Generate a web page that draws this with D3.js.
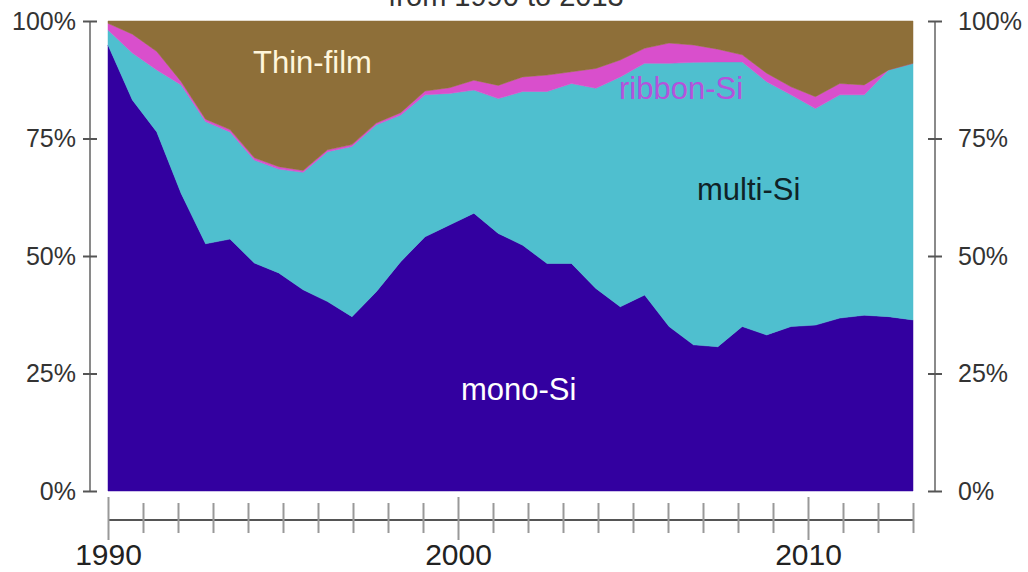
<!DOCTYPE html>
<html>
<head>
<meta charset="utf-8">
<script src="https://cdn.jsdelivr.net/npm/d3@7"></script>
<style>
  html, body { margin: 0; padding: 0; background: #fff; }
  svg { display: block; font-family: "Liberation Sans", Arial, sans-serif; }
</style>
</head>
<body>
<svg id="chart" width="1028" height="572"></svg>
<script>
// ---- data (share of annual PV production, %) ----
const startYear = 1990;
const endYear = 2013;
const labeledYears = [1990, 2000, 2010];
const yTickValues = [0, 25, 50, 75, 100];
const seriesKeys = ["mono", "multi", "ribbon", "thin"];
const seriesLabels = ["mono-Si", "multi-Si", "ribbon-Si", "Thin-film"];
const titleText = "from 1990 to 2013";

const monoSi = [94.9, 83.2, 76.4, 63.3, 52.6, 53.6, 48.5, 46.4, 42.8, 40.3, 37.1, 42.4,
  48.8, 54.1, 56.6, 59.1, 54.8, 52.3, 48.4, 48.4, 43.1, 39.2, 41.7, 35.0, 31.1, 30.7,
  35.0, 33.2, 35.0, 35.3, 36.8, 37.4, 37.1, 36.4];
const multiSi = [3.2, 10.0, 13.2, 23.1, 26.0, 22.8, 21.9, 22.1, 25.0, 31.9, 36.2, 35.5,
  31.2, 30.2, 28.0, 26.2, 28.7, 32.7, 36.6, 38.3, 42.6, 48.9, 49.3, 56.0, 60.1, 60.6,
  56.3, 53.9, 49.3, 46.1, 47.5, 46.9, 52.5, 54.6];
const ribbonSi = [1.4, 4.0, 3.9, 0.7, 0.5, 0.5, 0.5, 0.5, 0.4, 0.4, 0.4, 0.4,
  0.5, 0.8, 1.2, 2.1, 2.8, 3.1, 3.5, 2.5, 4.2, 3.6, 3.2, 4.3, 3.7, 2.7,
  1.5, 1.8, 1.7, 2.5, 2.4, 2.1, 0, 0];
const thinFilm = [0.5, 2.8, 6.5, 12.9, 20.9, 23.1, 29.1, 31.0, 31.8, 27.4, 26.3, 21.7,
  19.5, 14.9, 14.2, 12.6, 13.7, 11.9, 11.5, 10.8, 10.1, 8.3, 5.8, 4.7, 5.1, 6.0,
  7.2, 11.1, 14.0, 16.1, 13.3, 13.6, 10.4, 9.0];

// ---- layout ----
const svg = d3.select("#chart");
const plot = { left: 108, right: 913, top: 21, bottom: 491 };
const colors = { mono: "#3300a0", multi: "#4fbfcf", ribbon: "#d94fcc", thin: "#8e6f39" };

const n = monoSi.length;
const rows = d3.range(n).map(i => ({
  i, mono: monoSi[i], multi: multiSi[i], ribbon: ribbonSi[i], thin: thinFilm[i]
}));

const xIdx = d3.scaleLinear().domain([0, n - 1]).range([plot.left, plot.right]);
const xYear = d3.scaleLinear().domain([startYear, endYear]).range([plot.left, plot.right]);
const y = d3.scaleLinear().domain([0, 100]).range([plot.bottom, plot.top]);

const stacked = d3.stack().keys(seriesKeys)(rows);
const area = d3.area()
  .x(d => xIdx(d.data.i))
  .y0(d => y(d[0]))
  .y1(d => y(d[1]));

svg.append("g").selectAll("path")
  .data(stacked)
  .join("path")
  .attr("d", area)
  .attr("fill", d => colors[d.key])
  .attr("stroke", d => colors[d.key])
  .attr("stroke-width", 0.5);

// ---- series labels ----
const labelStyle = [
  { key: "thin", text: seriesLabels[3], x: 253, y: 73, fill: "#fff6dc" },
  { key: "ribbon", text: seriesLabels[2], x: 619, y: 99, fill: "#b552dc" },
  { key: "multi", text: seriesLabels[1], x: 697, y: 200, fill: "#0f2226" },
  { key: "mono", text: seriesLabels[0], x: 461, y: 400, fill: "#ffffff" }
];
svg.append("g").selectAll("text")
  .data(labelStyle)
  .join("text")
  .attr("x", d => d.x)
  .attr("y", d => d.y)
  .attr("fill", d => d.fill)
  .attr("font-size", 31)
  .text(d => d.text);

// ---- title (cut off at the top, as in the reference) ----
svg.append("text")
  .attr("x", 506).attr("y", 6)
  .attr("text-anchor", "middle")
  .attr("font-size", 29)
  .attr("fill", "#333")
  .text(titleText);

// ---- y axes ----
const yAxisScale = d3.scaleLinear().domain([0, 100]).range([plot.bottom, plot.top]);
function drawYAxis(xPos, side) {
  const g = svg.append("g").attr("transform", `translate(${xPos},0)`);
  const ax = (side === "left" ? d3.axisLeft(yAxisScale) : d3.axisRight(yAxisScale))
    .tickValues(yTickValues)
    .tickSize(0)
    .tickPadding(side === "left" ? 14 : 23)
    .tickFormat(d => d + "%");
  g.call(ax);
  g.select(".domain").attr("stroke", "#8a8a8a").attr("stroke-width", 2)
    .attr("d", `M0,${plot.top}V${plot.bottom}`);
  g.selectAll(".tick line")
    .attr("x1", -7).attr("x2", 7).attr("y1", 0).attr("y2", 0)
    .attr("stroke", "#555").attr("stroke-width", 2);
  g.selectAll(".tick text")
    .attr("font-size", 25)
    .attr("fill", "#333")
    .attr("font-family", "'Liberation Sans', Arial, sans-serif");
}
drawYAxis(90, "left");
drawYAxis(935, "right");

// ---- x axis ----
const gx = svg.append("g").attr("transform", `translate(0,520)`);
gx.call(d3.axisBottom(xYear)
  .tickValues(d3.range(startYear, endYear + 1))
  .tickSize(0)
  .tickPadding(24)
  .tickFormat(d => labeledYears.includes(d) ? String(d) : ""));
gx.select(".domain").attr("stroke", "#555").attr("stroke-width", 2)
  .attr("d", `M${plot.left},0H${plot.right}`);
gx.selectAll(".tick line")
  .attr("y1", d => labeledYears.includes(d) ? -23 : -17)
  .attr("y2", d => labeledYears.includes(d) ? 20 : 13)
  .attr("stroke", "#999").attr("stroke-width", 2);
gx.selectAll(".tick text")
  .attr("font-size", 30)
  .attr("fill", "#222")
  .attr("font-family", "'Liberation Sans', Arial, sans-serif");
</script>
</body>
</html>
